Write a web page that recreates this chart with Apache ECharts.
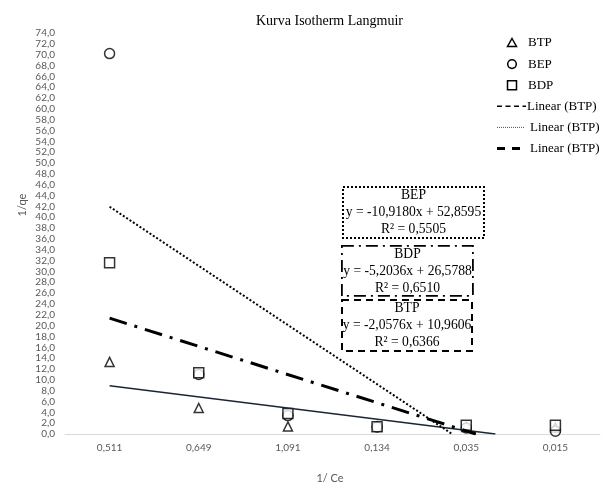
<!DOCTYPE html>
<html>
<head>
<meta charset="utf-8">
<script src="https://cdn.jsdelivr.net/npm/echarts@6/dist/echarts.min.js"></script>
<style>
  html, body { margin: 0; padding: 0; background: #ffffff; }
  #chart { width: 605px; height: 493px; }
</style>
</head>
<body>
<div id="chart"></div>
<script>
// Isotherm data: 1/Ce categories and 1/qe values per sample
const categories = ['0,511', '0,649', '1,091', '0,134', '0,035', '0,015'];
const btp = [13.3, 4.8, 1.4, 1.4, 1.3, 1.2];
const bep = [70.2, 11.0, 3.4, 1.3, 1.1, 0.5];
const bdp = [31.6, 11.3, 3.8, 1.35, 1.6, 1.6];

// Linear trendline coefficients (y = slope * x + intercept, x = category number)
const fitNames = ['BEP', 'BDP', 'BTP'];
const fitSlopes = [-10.9180, -5.2036, -2.0576];
const fitIntercepts = [52.8595, 26.5788, 10.9606];
const fitR2 = [0.5505, 0.6510, 0.6366];

// Legend entries
const legendLabels = ['BTP', 'BEP', 'BDP', 'Linear (BTP)', 'Linear (BTP)', 'Linear (BTP)'];

const yMax = 74;
const yStep = 2;

const serif = 'Liberation Serif';
const sans = 'Lato';

function comma(v, d) { return v.toFixed(d).replace('.', ','); }

function points(values) { return values.map((v, i) => [i + 1, v]); }

// Trendline from x = 1 until it reaches the x axis (or the last category)
function trend(k) {
  const a = fitSlopes[k], b = fitIntercepts[k];
  const xEnd = Math.min(categories.length, -b / a);
  return [[1, a + b], [xEnd, a * xEnd + b]];
}

function equation(k) {
  const a = fitSlopes[k], b = fitIntercepts[k];
  return 'y = ' + comma(a, 4) + 'x ' + (b < 0 ? '- ' : '+ ') + comma(Math.abs(b), 4);
}

const markerStyle = { color: '#ffffff', borderColor: '#000000', borderWidth: 1.5 };

const graphics = [];

// Equation boxes: [left, top, width, height, dash pattern, border width]
const boxes = [
  [342, 186, 141, 51, [2, 2], 2],
  [341, 245, 131, 50, [12, 5, 2, 5], 1.8],
  [341, 299, 130, 51, [7, 5], 2]
];
boxes.forEach((bx, k) => {
  const [x, y, w, h, dash, lw] = bx;
  graphics.push({
    type: 'rect', left: x, top: y, silent: true, z: 10,
    shape: { width: w, height: h },
    style: { fill: '#ffffff', stroke: '#000000', lineWidth: lw, lineDash: dash }
  });
  const lines = [fitNames[k], equation(k), 'R² = ' + comma(fitR2[k], 4)];
  lines.forEach((t, j) => {
    graphics.push({
      type: 'text', x: x + w / 2 + 1, y: y + 9 + j * 17, silent: true, z: 11,
      style: { text: t, fill: '#000000', font: '13.6px "' + serif + '"', textAlign: 'center', textVerticalAlign: 'middle' }
    });
  });
});

// Legend, drawn as a column of key glyphs and labels
const legendTop = 43, legendStep = 21.1, keyX = 512, textX = 528;
const rowY = i => legendTop + i * legendStep;
graphics.push({
  type: 'polygon', silent: true,
  shape: { points: [[keyX, rowY(0) - 4.5], [keyX + 4.5, rowY(0) + 3.5], [keyX - 4.5, rowY(0) + 3.5]] },
  style: { fill: '#ffffff', stroke: '#000000', lineWidth: 1.5 }
});
graphics.push({
  type: 'circle', silent: true,
  shape: { cx: keyX, cy: rowY(1), r: 4.3 },
  style: { fill: '#ffffff', stroke: '#000000', lineWidth: 1.5 }
});
graphics.push({
  type: 'rect', silent: true,
  shape: { x: keyX - 4.5, y: rowY(2) - 4.5, width: 9, height: 9 },
  style: { fill: '#ffffff', stroke: '#000000', lineWidth: 1.5 }
});
const legendLines = [
  { x1: 497, x2: 526, dash: [5, 3.5], width: 1.6, color: '#000000' },
  { x1: 497, x2: 524, dash: [1, 1], width: 1, color: '#2f5597' },
  { x1: 497, x2: 522, dash: [8, 7], width: 3, color: '#000000' }
];
legendLines.forEach((l, i) => {
  graphics.push({
    type: 'line', silent: true,
    shape: { x1: l.x1, y1: rowY(3 + i), x2: l.x2, y2: rowY(3 + i) },
    style: { stroke: l.color, lineWidth: l.width, lineDash: l.dash }
  });
});
legendLabels.forEach((t, i) => {
  graphics.push({
    type: 'text', x: i < 3 ? textX : (i === 3 ? 527 : 530), y: rowY(i), silent: true,
    style: { text: t, fill: '#000000', font: '13px "' + serif + '"', textAlign: 'left', textVerticalAlign: 'middle' }
  });
});

// Axis titles
graphics.push({
  type: 'text', x: 22, y: 205, rotation: Math.PI / 2, silent: true,
  style: { text: '1/qe', fill: '#595959', font: '11px ' + sans, textAlign: 'center', textVerticalAlign: 'middle' }
});
graphics.push({
  type: 'text', x: 330, y: 478, silent: true,
  style: { text: '1/ Ce', fill: '#595959', font: '11px ' + sans, textAlign: 'center', textVerticalAlign: 'middle' }
});

const chart = echarts.init(document.getElementById('chart'), null, { renderer: 'canvas' });

chart.setOption({
  animation: false,
  backgroundColor: '#ffffff',
  title: {
    text: 'Kurva Isotherm Langmuir',
    left: 251, top: 9,
    textStyle: { fontFamily: serif, fontSize: 14, fontWeight: 'normal', color: '#000000' }
  },
  grid: { left: 65, right: 5, top: 33, bottom: 59 },
  xAxis: [
    {
      type: 'category', data: categories, boundaryGap: true,
      axisLine: { lineStyle: { color: '#d9d9d9', width: 1 } },
      axisTick: { show: false },
      axisLabel: { fontFamily: sans, fontSize: 10, color: '#595959', margin: 9 },
      splitLine: { show: false }
    },
    {
      type: 'value', min: 0.5, max: categories.length + 0.5, show: false,
      splitLine: { show: false }
    }
  ],
  yAxis: {
    type: 'value', min: 0, max: yMax, interval: yStep,
    axisLine: { show: false },
    axisTick: { show: false },
    splitLine: { show: false },
    axisLabel: {
      fontFamily: sans, fontSize: 10, color: '#595959', margin: 10,
      formatter: v => comma(v, 1)
    }
  },
  series: [
    {
      name: 'BTP', type: 'scatter', xAxisIndex: 1, data: points(btp),
      symbol: 'triangle', symbolSize: 9, itemStyle: markerStyle, z: 2
    },
    {
      name: 'BEP', type: 'scatter', xAxisIndex: 1, data: points(bep),
      symbol: 'circle', symbolSize: 10, itemStyle: markerStyle, z: 2
    },
    {
      name: 'BDP', type: 'scatter', xAxisIndex: 1, data: points(bdp),
      symbol: 'rect', symbolSize: 10, itemStyle: markerStyle, z: 2
    },
    {
      name: 'Linear BTP', type: 'line', xAxisIndex: 1, data: trend(2),
      symbol: 'none', silent: true, z: 3,
      lineStyle: { color: '#1b2535', width: 1.5, type: 'solid' }
    },
    {
      name: 'Linear BEP', type: 'line', xAxisIndex: 1, data: trend(0),
      symbol: 'none', silent: true, z: 3,
      lineStyle: { color: '#000000', width: 2, type: [2, 2], cap: 'butt' }
    },
    {
      name: 'Linear BDP', type: 'line', xAxisIndex: 1, data: trend(1),
      symbol: 'none', silent: true, z: 3,
      lineStyle: { color: '#000000', width: 3, type: [18, 8, 3, 8] }
    }
  ],
  graphic: graphics
});
</script>
</body>
</html>
